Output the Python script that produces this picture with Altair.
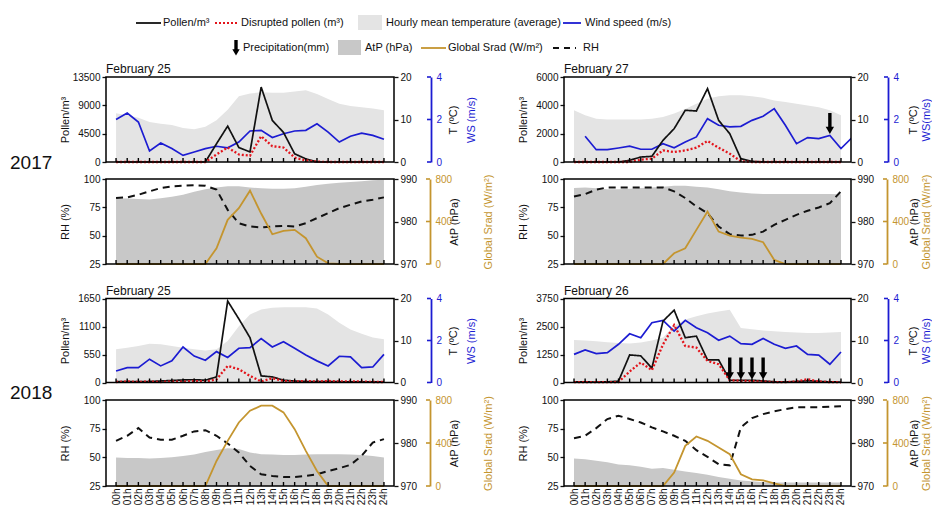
import altair as alt
import pandas as pd

# ---------------- data ----------------
hours = list(range(25))
wind_hours_17_27 = list(range(1, 26))

# 2017, February 25
pol_17_25 = [0,0,0,0,0,0,0,0,0,2900,5700,2300,1600,11900,6600,4700,1300,500,0,0,0,0,0,0,0]
dis_17_25 = [0,0,0,0,0,0,0,0,0,1200,2300,1200,1000,4100,2500,2300,700,250,50,0,0,0,0,0,0]
tmp_17_25 = [11.5,11.0,10.4,9.4,9.0,8.7,8.0,7.7,8.3,9.8,12.3,15.5,16.1,16.4,16.3,16.3,16.6,16.9,16.0,14.8,13.7,13.2,12.9,12.6,12.2]
ws_17_25 = [2.0,2.3,1.88,0.52,0.89,0.63,0.31,0.47,0.63,0.74,0.67,0.94,1.46,1.49,1.15,1.33,1.46,1.49,1.80,1.41,0.94,1.21,1.36,1.25,1.07]
rh_17_25 = [83.2,83.8,86.1,89.1,92.0,93.5,94.1,94.4,94.1,90.6,72.8,61.0,58.1,57.2,58.1,58.7,58.1,61.0,65.5,69.9,74.3,77.3,80.2,81.7,83.8]
atp_17_25 = [985.5,985.4,985.3,985.2,985.5,985.8,986.3,987.0,987.6,988.0,988.3,988.3,988.0,987.8,987.7,987.7,987.8,988.2,988.6,988.9,989.1,989.3,989.5,989.7,989.8]
srad_17_25 = [0,0,0,0,0,0,0,0,0,148,416,526,690,475,280,312,321,243,69,6,0,0,0,0,0]

# 2017, February 27
pol_17_27 = [0,0,0,0,0,120,350,400,1530,2350,3650,3600,5180,2940,2000,235,47,0,0,0,0,0,0,0,0]
dis_17_27 = [0,0,0,0,0,0,165,235,820,700,820,1010,1480,1010,590,50,0,0,0,0,0,0,0,0,0]
tmp_17_27 = [12.2,11.0,10.2,10.0,10.0,10.0,10.0,10.2,10.6,11.4,12.5,13.7,14.9,15.5,15.7,15.7,15.5,15.1,14.5,14.1,13.7,13.3,12.9,12.2,11.0]
ws_17_27 = [1.21,0.58,0.58,0.66,0.75,0.60,0.60,0.86,0.67,0.94,1.18,2.04,1.73,1.65,1.68,1.96,2.15,2.51,1.73,0.86,1.15,1.10,1.25,0.63,1.15]
rh_17_27 = [84.6,86.7,90.6,92.6,92.6,92.6,92.6,92.6,92.6,89.1,83.2,75.8,69.9,58.1,51.3,50.1,50.7,53.6,59.6,64.0,68.4,72.0,74.9,78.7,89.1]
atp_17_27 = [987.9,988.0,987.8,987.6,987.6,987.7,987.9,988.0,988.2,988.4,988.4,988.2,988.0,987.6,987.1,986.8,986.6,986.5,986.5,986.5,986.5,986.5,986.5,986.5,986.4]
srad_17_27 = [0,0,0,0,0,0,0,0,0,101,148,321,494,305,268,249,236,205,38,0,0,0,0,0,0]
precip_17_27 = [23]

# 2018, February 25
pol_18_25 = [20,20,15,20,30,40,50,55,45,110,1600,1250,880,130,110,45,30,20,15,20,15,15,15,15,10]
dis_18_25 = [10,20,10,20,10,20,15,30,20,60,326,260,130,20,85,30,20,30,20,30,20,20,20,10,10]
tmp_18_25 = [7.9,8.3,8.7,9.2,9.1,8.7,8.3,7.9,7.6,7.9,9.9,13.4,16.2,17.4,17.8,17.9,17.9,17.9,17.6,16.2,14.2,12.6,11.6,10.7,10.3]
ws_18_25 = [0.55,0.71,0.71,1.11,0.79,1.03,1.69,1.26,1.06,1.47,1.19,1.63,1.66,2.09,1.69,1.94,1.63,1.31,1.03,0.79,1.25,1.22,0.71,0.74,1.34]
rh_18_25 = [64.4,68.8,75.5,67.3,65.3,65.3,68.8,72.6,73.7,68.8,62.1,54.2,42.5,35.2,33.8,32.9,32.9,33.8,35.2,38.1,40.5,43.4,51.3,62.9,65.9]
atp_18_25 = [976.6,976.5,976.5,976.4,976.5,976.7,977.0,977.3,977.9,978.4,978.8,978.6,977.8,977.4,977.3,977.2,977.2,977.3,977.4,977.4,977.4,977.3,977.2,977.0,976.6]
srad_18_25 = [0,0,0,0,0,0,0,0,0,233,420,591,700,747,747,685,529,327,140,0,0,0,0,0,0]

# 2018, February 26
pol_18_26 = [30,30,20,30,60,1230,1190,640,2740,3230,2000,2070,1010,1010,100,100,100,70,30,30,40,80,50,30,20]
dis_18_26 = [20,20,20,20,20,490,890,550,1700,2560,1630,1556,963,815,100,75,60,40,20,20,40,150,40,20,10]
tmp_18_26 = [10.1,10.0,9.8,9.6,9.4,9.3,9.5,10.0,10.7,13.5,15.0,15.8,16.4,16.9,17.3,13.0,12.7,12.4,12.2,12.0,11.9,11.8,11.8,11.9,12.0]
ws_18_26 = [1.34,1.55,1.38,1.42,1.82,2.32,2.13,2.85,2.96,2.45,2.96,2.61,2.37,2.01,2.21,1.85,1.82,2.10,1.82,1.63,1.74,1.34,1.30,0.87,1.45]
rh_18_26 = [66.7,68.8,75.5,83.4,86.3,83.4,80.4,76.1,72.6,68.8,64.4,56.2,50.4,44.0,43.0,76.1,84.2,87.7,90.1,92.1,93.6,93.6,93.6,94.2,94.5]
atp_18_26 = [976.4,976.2,975.9,975.5,975.0,974.8,974.5,974.0,974.2,973.8,973.4,973.0,972.6,972.1,971.7,971.3,971.1,970.9,970.8,970.8,970.8,970.8,970.8,970.8,970.8]
srad_18_26 = [0,0,0,0,0,0,0,0,0,125,374,461,420,358,296,109,62,53,25,0,0,0,0,0,0]
precip_18_26 = [14, 15, 16, 17]

series_names = ["Pollen/m³", "Disrupted pollen (m³)"]
legend_row1 = ["Pollen/m³", "Disrupted pollen (m³)", "Hourly mean temperature (average)", "Wind speed (m/s)"]
legend_row2 = ["Precipitation(mm)", "AtP (hPa)", "Global Srad (W/m²)", "RH"]

t_ticks = [0, 10, 20]
ws_ticks = [0, 2, 4]
rh_ticks = [25, 50, 75, 100]
atp_ticks = [970, 980, 990]
srad_ticks = [0, 400, 800]

# ---------------- style ----------------
FONT = "Liberation Sans"
BLACK = "#111111"
RED = "#e3141b"
BLUE = "#1c1cd2"
GOLD = "#c4952f"
TEMP_GREY = "#e4e4e4"
ATP_GREY = "#c8c8c8"
X_DOMAIN = [-0.9, 24.9]
WS_OFF = 37
SRAD_OFF = 36
DUMMY = pd.DataFrame({"k": [0]})


def xenc(show):
    if show:
        ax = alt.Axis(values=hours, labelExpr="(datum.value < 10 ? '0' : '') + datum.value + 'h'",
                      labelAngle=270, labelFontSize=10, labelPadding=2, ticks=False, domain=False,
                      grid=False, title=None, labelOverlap=False, labelFlush=False, labelColor=BLACK)
    else:
        ax = None
    return alt.X("hour:Q", scale=alt.Scale(domain=X_DOMAIN, nice=False, zero=False), axis=ax)


def text_layer(txt, x, y, size=12, align="left", color=BLACK):
    return alt.Chart(DUMMY).mark_text(align=align, baseline="middle", fontSize=size, font=FONT,
                                      color=color).encode(x=alt.value(x), y=alt.value(y), text=alt.value(txt))


def frame_layer(w, y0, y1):
    return alt.Chart(DUMMY).mark_rect(fillOpacity=0, stroke="black", strokeWidth=1.5).encode(
        x=alt.value(0), x2=alt.value(w), y=alt.value(y0), y2=alt.value(y1))


def ticks_layer(H, show=False):
    return alt.Chart(pd.DataFrame({"hour": hours})).mark_rule(color="black", strokeWidth=1.4).encode(
        x=xenc(show), y=alt.value(H), y2=alt.value(H - 4))


def inward_ticks(values, domain, rng, xpos, color):
    """Small ticks pointing from an offset axis line back toward the plot."""
    return alt.Chart(pd.DataFrame({"v": values})).mark_rule(color=color, strokeWidth=1.6).encode(
        y=alt.Y("v:Q", scale=alt.Scale(domain=domain, range=rng, nice=False, zero=False), axis=None),
        x=alt.value(xpos - 4), x2=alt.value(xpos))


def arrow_layers(data, xch, top, tip, tri_size):
    """Downward arrow: thick shaft + triangular head, tip at pixel 'tip'."""
    shaft = alt.Chart(data).mark_rule(color="black", strokeWidth=3.4).encode(
        x=xch, y=alt.value(top), y2=alt.value(tip - 5))
    head = alt.Chart(data).mark_point(shape="triangle-down", filled=True, size=tri_size,
                                      color="black", opacity=1, strokeWidth=0).encode(
        x=xch, y=alt.value(tip - 3.6))
    return [shaft, head]


def vaxis(orient, values, title, tx, ty, color=BLACK, offset=0, line=False, fmt=None):
    kw = dict(orient=orient, values=values, title=title, titleX=tx, titleY=ty, titleAngle=270,
              titleBaseline="middle", titleAlign="center", titleColor=color, labelColor=color,
              labelFontSize=10, titleFontSize=11, grid=False)
    if fmt:
        kw["format"] = fmt
    if offset:
        kw["offset"] = offset
    if line:
        kw.update(domain=True, domainColor=color, domainWidth=1.8, ticks=False, labelPadding=5)
    else:
        kw.update(domain=False, ticks=True, tickSize=4, tickWidth=1.3, tickColor=color, labelPadding=2)
    return alt.Axis(**kw)


def legend_layers():
    y1, y2 = -54, -29
    L = []
    L.append(alt.Chart(DUMMY).mark_rule(color=BLACK, strokeWidth=1.8).encode(
        x=alt.value(30), x2=alt.value(55), y=alt.value(y1)))
    L.append(alt.Chart(DUMMY).mark_rule(color=RED, strokeWidth=2.2, strokeDash=[2, 2]).encode(
        x=alt.value(109), x2=alt.value(132), y=alt.value(y1)))
    L.append(alt.Chart(DUMMY).mark_rect(color=TEMP_GREY).encode(
        x=alt.value(252), x2=alt.value(276), y=alt.value(y1 - 8), y2=alt.value(y1 + 7)))
    L.append(alt.Chart(DUMMY).mark_rule(color=BLUE, strokeWidth=1.8).encode(
        x=alt.value(457), x2=alt.value(475), y=alt.value(y1)))
    for t, x in zip(legend_row1, [57, 135, 280, 479]):
        L.append(text_layer(t, x, y1, size=11))
    L += arrow_layers(DUMMY, alt.value(130), y2 - 8, y2 + 8, 55)
    L.append(alt.Chart(DUMMY).mark_rect(color=ATP_GREY).encode(
        x=alt.value(232), x2=alt.value(255), y=alt.value(y2 - 8), y2=alt.value(y2 + 7)))
    L.append(alt.Chart(DUMMY).mark_rule(color=GOLD, strokeWidth=1.8).encode(
        x=alt.value(315), x2=alt.value(340), y=alt.value(y2)))
    L.append(alt.Chart(DUMMY).mark_rule(color=BLACK, strokeWidth=2, strokeDash=[6, 5]).encode(
        x=alt.value(447), x2=alt.value(470), y=alt.value(y2)))
    for t, x in zip(legend_row2, [137, 259, 342, 477]):
        L.append(text_layer(t, x, y2, size=11))
    return L


def top_panel(w, h, extra, pollen, disr, temp, wind, wind_hours, pmax, pticks, title,
              t_tx, ws_tx, ws_title, precip=None, arrow_top=None, arrow_tip=None,
              row_label=None, row_y=None, legend=False):
    H = h + extra
    rng = [H, extra]
    ty = extra + h / 2
    tdf = pd.DataFrame({"hour": hours, "temp": temp})
    temp_l = alt.Chart(tdf).mark_area(color=TEMP_GREY, opacity=1).encode(
        x=xenc(False),
        y=alt.Y("temp:Q", scale=alt.Scale(domain=[0, 20], range=rng, nice=False),
                axis=vaxis("right", t_ticks, "T (ºC)", t_tx, ty)),
        y2=alt.datum(0))
    wdf = pd.DataFrame({"hour": wind_hours, "wind": wind})
    wind_l = alt.Chart(wdf).mark_line(color=BLUE, strokeWidth=1.7, clip=True).encode(
        x=xenc(False),
        y=alt.Y("wind:Q", scale=alt.Scale(domain=[0, 4], range=rng, nice=False),
                axis=vaxis("right", ws_ticks, ws_title, ws_tx, ty, color=BLUE, offset=WS_OFF, line=True)))
    pdf = pd.DataFrame({"hour": hours + hours, "value": pollen + disr,
                        "series": [series_names[0]] * 25 + [series_names[1]] * 25})
    pol_l = alt.Chart(pdf).mark_line().encode(
        x=xenc(False),
        y=alt.Y("value:Q", scale=alt.Scale(domain=[0, pmax], range=rng, nice=False),
                axis=vaxis("left", pticks, "Pollen/m³", -41, ty, fmt="d")),
        color=alt.Color("series:N", scale=alt.Scale(domain=series_names, range=[BLACK, RED]), legend=None),
        strokeDash=alt.StrokeDash("series:N", scale=alt.Scale(domain=series_names, range=[[1, 0], [2, 2]]),
                                  legend=None),
        strokeWidth=alt.StrokeWidth("series:N", scale=alt.Scale(domain=series_names, range=[1.7, 2.3]),
                                    legend=None),
    )
    layers = [temp_l, wind_l, pol_l, inward_ticks(ws_ticks, [0, 4], rng, w + WS_OFF, BLUE)]
    if precip:
        layers += arrow_layers(pd.DataFrame({"hour": precip}), xenc(False), arrow_top, arrow_tip, 70)
    layers.append(ticks_layer(H))
    layers.append(frame_layer(w, extra, H))
    layers.append(text_layer(title, 0, extra - 8, size=12))
    if row_label:
        layers.append(text_layer(row_label, -96, row_y, size=19))
    if legend:
        layers += legend_layers()
    return alt.layer(*layers).resolve_scale(y="independent").properties(width=w, height=H)


def bottom_panel(w, h, rh, atp, srad, show_x, atp_tx, srad_tx):
    ty = h / 2
    rng = [h, 0]
    df = pd.DataFrame({"hour": hours, "rh": rh, "atp": atp, "srad": srad})
    atp_l = alt.Chart(df).mark_area(color=ATP_GREY, opacity=1).encode(
        x=xenc(show_x),
        y=alt.Y("atp:Q", scale=alt.Scale(domain=[970, 990], range=rng, nice=False, zero=False),
                axis=vaxis("right", atp_ticks, "AtP (hPa)", atp_tx, ty)),
        y2=alt.datum(970))
    rh_l = alt.Chart(df).mark_line(color=BLACK, strokeWidth=2, strokeDash=[7, 5]).encode(
        x=xenc(show_x),
        y=alt.Y("rh:Q", scale=alt.Scale(domain=[25, 100], range=rng, nice=False, zero=False),
                axis=vaxis("left", rh_ticks, "RH (%)", -41, ty)))
    srad_l = alt.Chart(df).mark_line(color=GOLD, strokeWidth=1.8).encode(
        x=xenc(show_x),
        y=alt.Y("srad:Q", scale=alt.Scale(domain=[0, 800], range=rng, nice=False),
                axis=vaxis("right", srad_ticks, "Global Srad (W/m²)", srad_tx, ty, color=GOLD,
                           offset=SRAD_OFF, line=True)))
    layers = [atp_l, rh_l, srad_l, inward_ticks(srad_ticks, [0, 800], rng, w + SRAD_OFF, GOLD),
              ticks_layer(h, show_x), frame_layer(w, 0, h)]
    return alt.layer(*layers).resolve_scale(y="independent").properties(width=w, height=h)


WL, WR = 288, 287
HA, HB, HC, HD = 85, 85, 84, 86
EC = 17.5

A_L = top_panel(WL, HA, 0, pol_17_25, dis_17_25, tmp_17_25, ws_17_25, hours, 13500,
                [0, 4500, 9000, 13500], "February 25", 59, 40, "WS (m/s)",
                row_label="2017", row_y=HA + 1, legend=True)
A_R = top_panel(WR, HA, 0, pol_17_27, dis_17_27, tmp_17_27, ws_17_27, wind_hours_17_27, 6000,
                [0, 2000, 4000, 6000], "February 27", 62, 38, "WS(m/s)",
                precip=precip_17_27, arrow_top=36, arrow_tip=57)
B_L = bottom_panel(WL, HB, rh_17_25, atp_17_25, srad_17_25, False, 60, 58)
B_R = bottom_panel(WR, HB, rh_17_27, atp_17_27, srad_17_27, False, 63, 39)
C_L = top_panel(WL, HC, EC, pol_18_25, dis_18_25, tmp_18_25, ws_18_25, hours, 1650,
                [0, 550, 1100, 1650], "February 25", 59, 40, "WS (m/s)",
                row_label="2018", row_y=EC + HC + 10)
C_R = top_panel(WR, HC, EC, pol_18_26, dis_18_26, tmp_18_26, ws_18_26, hours, 3750,
                [0, 1250, 2500, 3750], "February 26", 62, 38, "WS (m/s)",
                precip=precip_18_26, arrow_top=EC + 59, arrow_tip=EC + 81)
D_L = bottom_panel(WL, HD, rh_18_25, atp_18_25, srad_18_25, True, 60, 58)
D_R = bottom_panel(WR, HD, rh_18_26, atp_18_26, srad_18_26, True, 63, 39)

chart = alt.concat(A_L, A_R, B_L, B_R, C_L, C_R, D_L, D_R, columns=2, bounds="flush",
                   spacing={"row": 17, "column": 170}).properties(
    padding={"left": 1, "top": 6, "right": 0, "bottom": 0}
).configure(font=FONT).configure_axis(
    labelFont=FONT, titleFont=FONT, titleFontWeight="normal", grid=False
).configure_view(stroke="transparent")

chart.save("out.html", embed_options={"renderer": "svg", "actions": False})
